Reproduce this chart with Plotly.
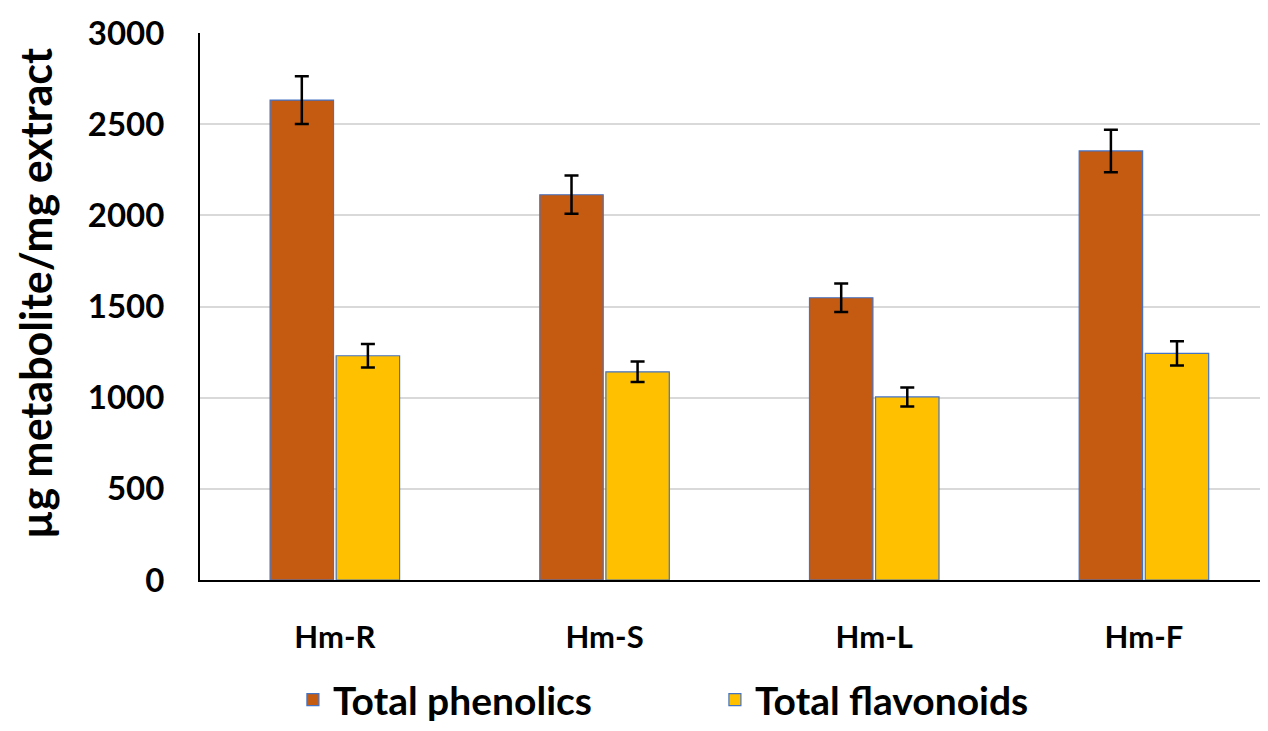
import plotly.graph_objects as go

categories = ["Hm-R", "Hm-S", "Hm-L", "Hm-F"]
phenolics = [2632, 2113, 1548, 2353]
phenolics_err = [131, 105, 78, 117]
flavonoids = [1230, 1142, 1004, 1243]
flavonoids_err = [64, 56, 52, 66]
y_ticks = [0, 500, 1000, 1500, 2000, 2500, 3000]
y_title = "µg metabolite/mg extract"

FONT = "Lato"
fig = go.Figure()
fig.add_trace(go.Bar(
    x=categories, y=phenolics, name="Total phenolics",
    marker=dict(color="#C55A11", line=dict(color="#4472C4", width=1.2)),
    error_y=dict(type="data", array=phenolics_err, color="black", thickness=2.5, width=7),
))
fig.add_trace(go.Bar(
    x=categories, y=flavonoids, name="Total flavonoids",
    marker=dict(color="#FFC000", line=dict(color="#4472C4", width=1.2)),
    error_y=dict(type="data", array=flavonoids_err, color="black", thickness=2.5, width=7),
))

fig.update_layout(
    width=1260, height=723,
    margin=dict(l=192, r=0, t=25, b=151, autoexpand=False),
    paper_bgcolor="white", plot_bgcolor="white",
    barmode="group", bargap=0.51, bargroupgap=0.04,
    font=dict(family=FONT, color="black"),
    legend=dict(orientation="h", x=0.087, xanchor="left", y=-0.219, yanchor="middle",
                entrywidth=377, entrywidthmode="pixels",
                font=dict(size=39, family=FONT, weight="bold"), traceorder="normal"),
    xaxis=dict(range=[-0.5, 3.46], showgrid=False, showline=True, linecolor="black", linewidth=2,
               ticks="outside", ticklen=29, tickcolor="rgba(0,0,0,0)",
               tickfont=dict(size=31, family=FONT, weight="bold")),
    yaxis=dict(range=[0, 3000], tickvals=y_ticks, showgrid=True, gridcolor="#D9D9D9", gridwidth=2,
               showline=True, linecolor="black", linewidth=2, zeroline=False,
               ticks="outside", ticklen=27, tickcolor="rgba(0,0,0,0)",
               tickfont=dict(size=33, family=FONT, weight="bold")),
    annotations=[dict(text=y_title, xref="paper", yref="paper",
                      x=(28 - 192) / 1068, y=0.523, xanchor="center", yanchor="middle",
                      textangle=-90, showarrow=False,
                      font=dict(size=43, family=FONT, weight="bold", color="black"))],
)
fig.write_html("out.html")
